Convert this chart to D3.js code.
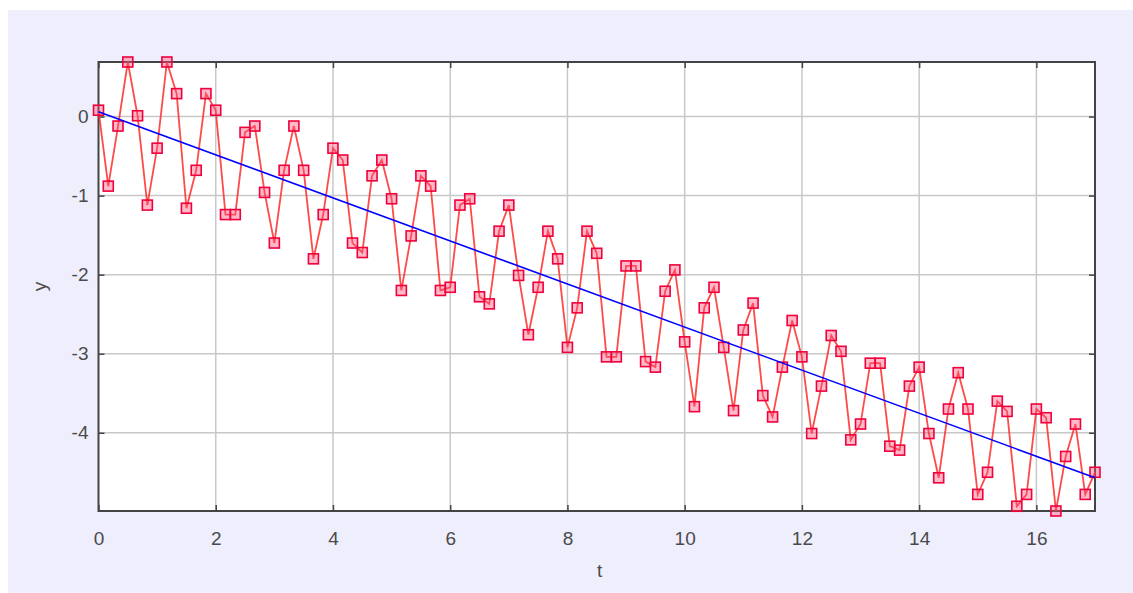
<!DOCTYPE html>
<meta charset="utf-8">
<head>
    <title>y vs t</title>
    <meta charset="utf-8" />
</head>
<style>

body {
    margin: 0;
    background: #fff;
}

.axis text,
.label {
    font-family: 'Liberation Sans', Arial, sans-serif;
    font-size: 19px;
    fill: #4a4a4a;
}

.axis line {
    stroke: #444;
    stroke-width: 1.5;
}

.grid line {
    stroke: #c8c8c8;
    stroke-width: 1.5;
}

</style>

<svg width="1133" height="593"></svg>
<script src="https://d3js.org/d3.v7.min.js"></script>
<script>

// samples of y, one every 1/6 of t
const yValues = [
    0.08, -0.88, -0.12, 0.69, 0.01, -1.12, -0.40, 0.69, 0.29, -1.16,
    -0.68, 0.29, 0.08, -1.24, -1.24, -0.20, -0.12, -0.96, -1.60, -0.68,
    -0.12, -0.68, -1.80, -1.24, -0.40, -0.55, -1.60, -1.72, -0.75, -0.55,
    -1.04, -2.20, -1.51, -0.75, -0.88, -2.20, -2.16, -1.12, -1.04, -2.28,
    -2.37, -1.45, -1.12, -2.01, -2.76, -2.16, -1.45, -1.80, -2.92, -2.42,
    -1.45, -1.73, -3.04, -3.04, -1.89, -1.89, -3.10, -3.17, -2.21, -1.94,
    -2.85, -3.67, -2.42, -2.16, -2.92, -3.72, -2.70, -2.36, -3.53, -3.80,
    -3.17, -2.58, -3.04, -4.01, -3.41, -2.77, -2.97, -4.09, -3.89, -3.12,
    -3.12, -4.17, -4.22, -3.41, -3.17, -4.01, -4.57, -3.70, -3.24, -3.70,
    -4.78, -4.50, -3.60, -3.73, -4.93, -4.78, -3.70, -3.81, -4.99, -4.30,
    -3.89, -4.78, -4.50
];
const sampleStep = 1 / 6;

// straight fit line, read at both ends
const fitT = [0, 17];
const fitY = [0.06, -4.57];

const xTicks = [0, 2, 4, 6, 8, 10, 12, 14, 16];
const yTicks = [-4, -3, -2, -1, 0];

const svg = d3.select('svg'),
    width = +svg.attr('width'),
    height = +svg.attr('height');

const margin = {top: 62, right: 38, bottom: 82, left: 98.5};
const w = width - margin.left - margin.right,
    h = height - margin.top - margin.bottom;

const points = yValues.map((v, i) => ({t: i * sampleStep, y: v}));
const fit = fitT.map((t, i) => ({t: t, y: fitY[i]}));

const x = d3.scaleLinear()
    .domain([0, 17])
    .range([0, w]);

const y = d3.scaleLinear()
    .domain(d3.extent(yValues))
    .range([h, 0]);

// plain hyphen, no decimals
const fmt = d => String(d);

// figure background
svg.append('rect')
    .attr('x', 8)
    .attr('y', 10)
    .attr('width', width - 8)
    .attr('height', height - 10)
    .attr('fill', '#eeeefd');

const g = svg.append('g')
    .attr('transform', `translate(${margin.left},${margin.top})`);

g.append('rect')
    .attr('width', w)
    .attr('height', h)
    .attr('fill', '#fff');

// grid
const grid = g.append('g')
    .attr('class', 'grid');

grid.selectAll('line.gx')
    .data(xTicks.filter(d => d > 0))
    .enter()
    .append('line')
    .attr('class', 'gx')
    .attr('x1', d => x(d))
    .attr('x2', d => x(d))
    .attr('y1', 0)
    .attr('y2', h);

grid.selectAll('line.gy')
    .data(yTicks)
    .enter()
    .append('line')
    .attr('class', 'gy')
    .attr('x1', 0)
    .attr('x2', w)
    .attr('y1', d => y(d))
    .attr('y2', d => y(d));

// axes, ticks pointing inward on all four sides
g.append('g')
    .attr('class', 'axis')
    .attr('transform', `translate(0,${h})`)
    .call(d3.axisBottom(x).tickValues(xTicks).tickSize(-6).tickPadding(21).tickFormat(fmt))
    .call(a => a.select('.domain').remove());

g.append('g')
    .attr('class', 'axis')
    .call(d3.axisTop(x).tickValues(xTicks).tickSize(-6).tickFormat(''))
    .call(a => a.select('.domain').remove());

g.append('g')
    .attr('class', 'axis')
    .call(d3.axisLeft(y).tickValues(yTicks).tickSize(-6).tickPadding(10).tickFormat(fmt))
    .call(a => a.select('.domain').remove());

g.append('g')
    .attr('class', 'axis')
    .attr('transform', `translate(${w},0)`)
    .call(d3.axisRight(y).tickValues(yTicks).tickSize(-6).tickFormat(''))
    .call(a => a.select('.domain').remove());

g.append('rect')
    .attr('width', w)
    .attr('height', h)
    .attr('fill', 'none')
    .attr('stroke', '#444')
    .attr('stroke-width', 2);

// axis titles
svg.append('text')
    .attr('class', 'label')
    .attr('x', margin.left + x(8.55))
    .attr('y', 577)
    .attr('text-anchor', 'middle')
    .text('t');

svg.append('text')
    .attr('class', 'label')
    .attr('transform', `translate(46,${margin.top + h / 2}) rotate(-90)`)
    .attr('text-anchor', 'middle')
    .text('y');

const line = d3.line()
    .x(d => x(d.t))
    .y(d => y(d.y));

g.append('path')
    .datum(points)
    .attr('d', line)
    .attr('fill', 'none')
    .attr('stroke', '#ff2a2a')
    .attr('stroke-opacity', 0.85)
    .attr('stroke-width', 1.8);

g.append('g')
    .selectAll('rect')
    .data(points)
    .enter()
    .append('rect')
    .attr('x', d => x(d.t) - 5)
    .attr('y', d => y(d.y) - 5)
    .attr('width', 10)
    .attr('height', 10)
    .attr('fill', '#ff5078')
    .attr('fill-opacity', 0.4)
    .attr('stroke', '#f0003c')
    .attr('stroke-width', 1.6);

g.append('path')
    .datum(fit)
    .attr('d', line)
    .attr('fill', 'none')
    .attr('stroke', '#0000ff')
    .attr('stroke-width', 1.6);

</script>
